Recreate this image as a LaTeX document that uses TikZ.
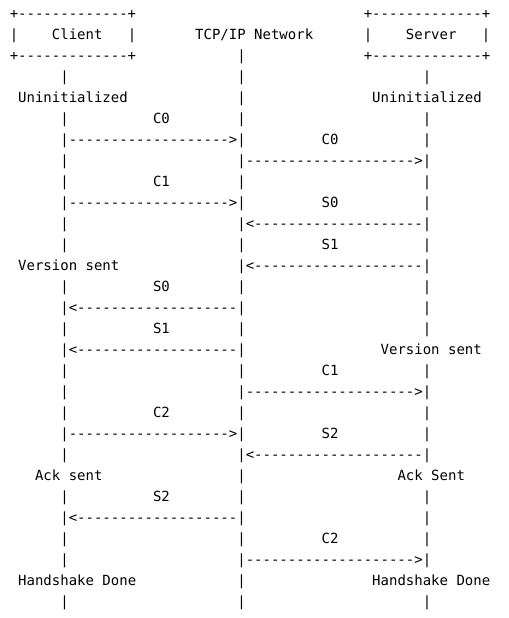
\documentclass[tikz,border=0pt]{standalone}
\usepackage{fontspec}
\setmonofont{DejaVu Sans Mono}
\newcommand\dashes[1]{\foreach\i in {1,...,#1}{-}}

\begin{document}
\begin{tikzpicture}[
    x=6.3225pt, y=-15.75pt,
    asc/.style={font=\ttfamily\fontsize{10.5}{12}\selectfont, inner sep=0pt, anchor=base west},
]
\useasboundingbox (-1.127,0.129) rectangle (59.25,29.56);

% Kopfzeile
\node[asc] (c_top) at (0,1) {+\dashes{13}+};
\node[asc] (c_left) at (0,2) {|};
\node[asc] (c_name) at (5,2) {Client};
\node[asc] (c_right) at (14,2) {|};
\node[asc] (c_bot) at (0,3) {+\dashes{13}+};
\node[asc] (n_name) at (22,2) {TCP/IP Network};
\node[asc] (s_top) at (42,1) {+\dashes{13}+};
\node[asc] (s_left) at (42,2) {|};
\node[asc] (s_name) at (47,2) {Server};
\node[asc] (s_right) at (56,2) {|};
\node[asc] (s_bot) at (42,3) {+\dashes{13}+};

% Lebenslinien
\foreach \r in {4,6,8,9,11,12,14,16,18,19,20,22,24,26,27,29}
    \node[asc] (cp\r) at (6,\r) {|};
\foreach \r in {3,4,5,6,9,12,14,16,18,20,23,24,26,28,29}
    \node[asc] (np\r) at (27,\r) {|};
\foreach \r in {4,6,7,9,10,12,14,15,16,18,20,21,24,25,26,29}
    \node[asc] (sp\r) at (49,\r) {|};

% Zustaende
\node[asc] (c_uninit) at (1,5) {Uninitialized};
\node[asc] (s_uninit) at (43,5) {Uninitialized};
\node[asc] (c_version) at (1,13) {Version sent};
\node[asc] (s_version) at (44,17) {Version sent};
\node[asc] (c_ack) at (3,23) {Ack sent};
\node[asc] (s_ack) at (46,23) {Ack Sent};
\node[asc] (c_done) at (1,28) {Handshake Done};
\node[asc] (s_done) at (43,28) {Handshake Done};

% Client <-> Netz
\foreach \r/\m in {6/C0, 9/C1, 14/S0, 16/S1, 20/C2, 24/S2}
    \node[asc] (cm\r) at (17,\r) {\m};
\foreach \r in {7,10,21}
    \node[asc] (ca\r) at (6,\r) {|\dashes{19}>|};
\foreach \r in {15,17,25}
    \node[asc] (ca\r) at (6,\r) {|<\dashes{19}|};

% Netz <-> Server
\foreach \r/\m in {7/C0, 10/S0, 12/S1, 18/C1, 21/S2, 26/C2}
    \node[asc] (sm\r) at (37,\r) {\m};
\foreach \r in {8,19,27}
    \node[asc] (sa\r) at (27,\r) {|\dashes{20}>|};
\foreach \r in {11,13,22}
    \node[asc] (sa\r) at (27,\r) {|<\dashes{20}|};

\end{tikzpicture}
\end{document}
